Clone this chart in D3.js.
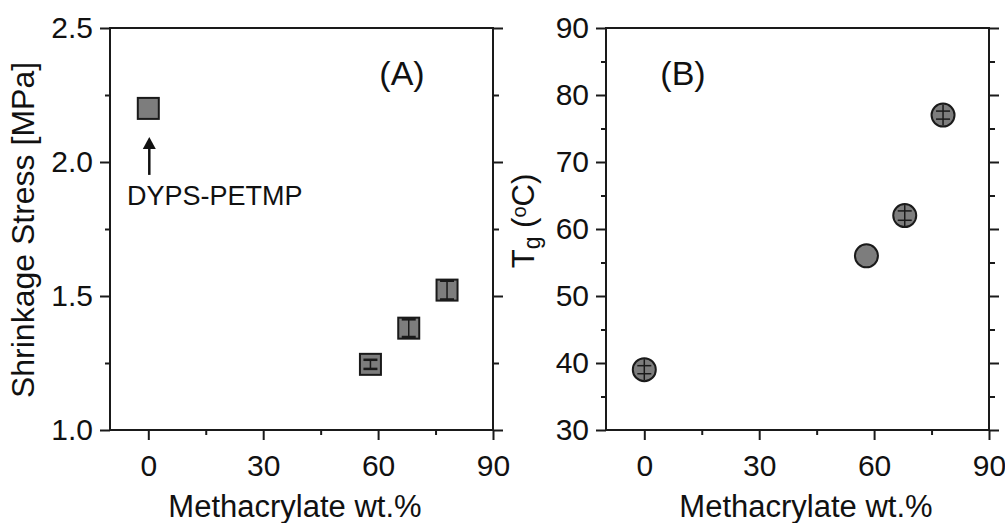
<!DOCTYPE html>
<html>
<head>
<meta charset="utf-8">
<script src="https://cdn.jsdelivr.net/npm/d3@7/dist/d3.min.js"></script>
<style>
  html, body { margin: 0; padding: 0; background: #fff; }
  svg { display: block; font-family: "Liberation Sans", Arial, sans-serif; }
</style>
</head>
<body>
<svg id="chart" width="1005" height="523"></svg>
<script>
// ---- data ----
const methacrylateWt = [0, 58, 68, 78];
const shrinkageStress = [2.2, 1.245, 1.38, 1.522];
const shrinkageErr = [0, 0.017, 0.033, 0.035];
const tgValues = [39, 56, 62, 77];
const tgErr = [0.6, 0, 0.7, 0.6];

const xMajorTicks = [0, 30, 60, 90];
const xMinorTicks = [15, 45, 75];
const yMajorTicksA = [1.0, 1.5, 2.0, 2.5];
const yMinorTicksA = [1.25, 1.75, 2.25];
const yMajorTicksB = [30, 40, 50, 60, 70, 80, 90];
const yMinorTicksB = [35, 45, 55, 65, 75, 85];

const xTitle = "Methacrylate wt.%";
const yTitleA = "Shrinkage Stress [MPa]";
const panelLabelA = "(A)";
const panelLabelB = "(B)";
const annotationA = "DYPS-PETMP";

const svg = d3.select("#chart");
const ink = "#1a1a1a";
const fillGray = "#7d7d7d";

function drawFrame(g, x, y, yMajor, yMinor, yFmt) {
  const [x0, x1] = x.range();
  const [yb, yt] = y.range();
  g.append("g").attr("transform", `translate(${x0},0)`)
    .call(d3.axisLeft(y).tickValues(yMajor).tickSize(10).tickSizeOuter(0).tickPadding(7).tickFormat(yFmt))
    .call(s => s.select(".domain").remove());
  g.append("g").attr("transform", `translate(${x0},0)`)
    .call(d3.axisLeft(y).tickValues(yMinor).tickSize(5).tickFormat(""))
    .call(s => s.select(".domain").remove());
  g.append("g").attr("transform", `translate(${x1},0)`)
    .call(d3.axisRight(y).tickValues(yMajor).tickSize(10).tickFormat(""))
    .call(s => s.select(".domain").remove());
  g.append("g").attr("transform", `translate(${x1},0)`)
    .call(d3.axisRight(y).tickValues(yMinor).tickSize(6).tickFormat(""))
    .call(s => s.select(".domain").remove());
  g.append("g").attr("transform", `translate(0,${yb})`)
    .call(d3.axisBottom(x).tickValues(xMajorTicks).tickSize(10).tickSizeOuter(0).tickPadding(15).tickFormat(d3.format("d")))
    .call(s => s.select(".domain").remove());
  g.append("g").attr("transform", `translate(0,${yb})`)
    .call(d3.axisBottom(x).tickValues(xMinorTicks).tickSize(5).tickFormat(""))
    .call(s => s.select(".domain").remove());
  g.append("rect").attr("x", x0).attr("y", yt).attr("width", x1 - x0).attr("height", yb - yt)
    .attr("fill", "none").attr("stroke", ink).attr("stroke-width", 2);

  g.selectAll(".tick line").attr("stroke", ink).attr("stroke-width", 2);
  g.selectAll(".tick text").attr("fill", "#111").style("font-size", "30px")
    .style("font-family", "'Liberation Sans', Arial, sans-serif");
}

// ---------- Panel A ----------
const xA = d3.scaleLinear().domain([-10, 90]).range([110, 493]);
const yA = d3.scaleLinear().domain([1.0, 2.5]).range([430, 28]);
const gA = svg.append("g");
drawFrame(gA, xA, yA, yMajorTicksA, yMinorTicksA, d3.format(".1f"));

const sq = 21;
const ptsA = methacrylateWt.map((m, i) => ({ x: m, y: shrinkageStress[i], e: shrinkageErr[i] }));
gA.selectAll("rect.pt").data(ptsA).join("rect")
  .attr("class", "pt")
  .attr("x", d => xA(d.x) - sq / 2).attr("y", d => yA(d.y) - sq / 2)
  .attr("width", sq).attr("height", sq)
  .attr("fill", fillGray).attr("stroke", ink).attr("stroke-width", 2);
const ebA = gA.selectAll("g.eb").data(ptsA.filter(d => d.e > 0)).join("g").attr("class", "eb");
ebA.append("line")
  .attr("x1", d => xA(d.x)).attr("x2", d => xA(d.x))
  .attr("y1", d => yA(d.y - d.e)).attr("y2", d => yA(d.y + d.e))
  .attr("stroke", ink).attr("stroke-width", 1.5);
ebA.append("line")
  .attr("x1", d => xA(d.x) - 7).attr("x2", d => xA(d.x) + 7)
  .attr("y1", d => yA(d.y + d.e)).attr("y2", d => yA(d.y + d.e))
  .attr("stroke", ink).attr("stroke-width", 2.5);
ebA.append("line")
  .attr("x1", d => xA(d.x) - 7).attr("x2", d => xA(d.x) + 7)
  .attr("y1", d => yA(d.y - d.e)).attr("y2", d => yA(d.y - d.e))
  .attr("stroke", ink).attr("stroke-width", 2.5);

const arrX = xA(methacrylateWt[0]) + 1;
const arrTip = yA(shrinkageStress[0]) - sq / 2 + 39;
gA.append("line").attr("x1", arrX).attr("x2", arrX)
  .attr("y1", arrTip + 8).attr("y2", arrTip + 38)
  .attr("stroke", "#111").attr("stroke-width", 2.5);
gA.append("path")
  .attr("d", `M${arrX},${arrTip} L${arrX - 6.5},${arrTip + 12} L${arrX + 6.5},${arrTip + 12} Z`)
  .attr("fill", "#111");
gA.append("text").attr("x", 127).attr("y", 205)
  .style("font-size", "27px").attr("fill", "#111").text(annotationA);

gA.append("text").attr("x", 402).attr("y", 85).attr("text-anchor", "middle")
  .style("font-size", "34px").attr("fill", "#111").text(panelLabelA);

gA.append("text").attr("x", 295).attr("y", 517).attr("text-anchor", "middle")
  .style("font-size", "31px").attr("fill", "#111").text(xTitle);
gA.append("text").attr("transform", "translate(34,230) rotate(-90)").attr("text-anchor", "middle")
  .style("font-size", "32px").attr("fill", "#111").text(yTitleA);

// ---------- Panel B ----------
const xB = d3.scaleLinear().domain([-10, 90]).range([606, 989]);
const yB = d3.scaleLinear().domain([30, 90]).range([430, 28]);
const gB = svg.append("g");
drawFrame(gB, xB, yB, yMajorTicksB, yMinorTicksB, d3.format("d"));

const ptsB = methacrylateWt.map((m, i) => ({ x: m, y: tgValues[i], e: tgErr[i] }));
const r = 11.5;
gB.selectAll("circle.pt").data(ptsB).join("circle")
  .attr("class", "pt")
  .attr("cx", d => xB(d.x)).attr("cy", d => yB(d.y)).attr("r", r)
  .attr("fill", fillGray).attr("stroke", ink).attr("stroke-width", 2);
const ebB = gB.selectAll("g.eb").data(ptsB.filter(d => d.e > 0)).join("g").attr("class", "eb");
ebB.append("line")
  .attr("x1", d => xB(d.x)).attr("x2", d => xB(d.x))
  .attr("y1", d => yB(d.y) - r + 1).attr("y2", d => yB(d.y) + r - 1)
  .attr("stroke", ink).attr("stroke-width", 1.5);
ebB.append("line")
  .attr("x1", d => xB(d.x) - 7).attr("x2", d => xB(d.x) + 7)
  .attr("y1", d => yB(d.y + d.e)).attr("y2", d => yB(d.y + d.e))
  .attr("stroke", ink).attr("stroke-width", 1.5);
ebB.append("line")
  .attr("x1", d => xB(d.x) - 7).attr("x2", d => xB(d.x) + 7)
  .attr("y1", d => yB(d.y - d.e)).attr("y2", d => yB(d.y - d.e))
  .attr("stroke", ink).attr("stroke-width", 1.5);

gB.append("text").attr("x", 683).attr("y", 85).attr("text-anchor", "middle")
  .style("font-size", "34px").attr("fill", "#111").text(panelLabelB);

gB.append("text").attr("x", 806).attr("y", 517).attr("text-anchor", "middle")
  .style("font-size", "31px").attr("fill", "#111").text(xTitle);

const tgLabel = gB.append("text").attr("transform", "translate(534,221) rotate(-90)")
  .attr("text-anchor", "middle").style("font-size", "31px").attr("fill", "#111");
tgLabel.append("tspan").text("T");
tgLabel.append("tspan").attr("dy", 6).style("font-size", "23px").text("g");
tgLabel.append("tspan").attr("dy", -6).text(" (");
tgLabel.append("tspan").attr("dy", -8).style("font-size", "20px").text("o");
tgLabel.append("tspan").attr("dy", 8).text("C)");
</script>
</body>
</html>
